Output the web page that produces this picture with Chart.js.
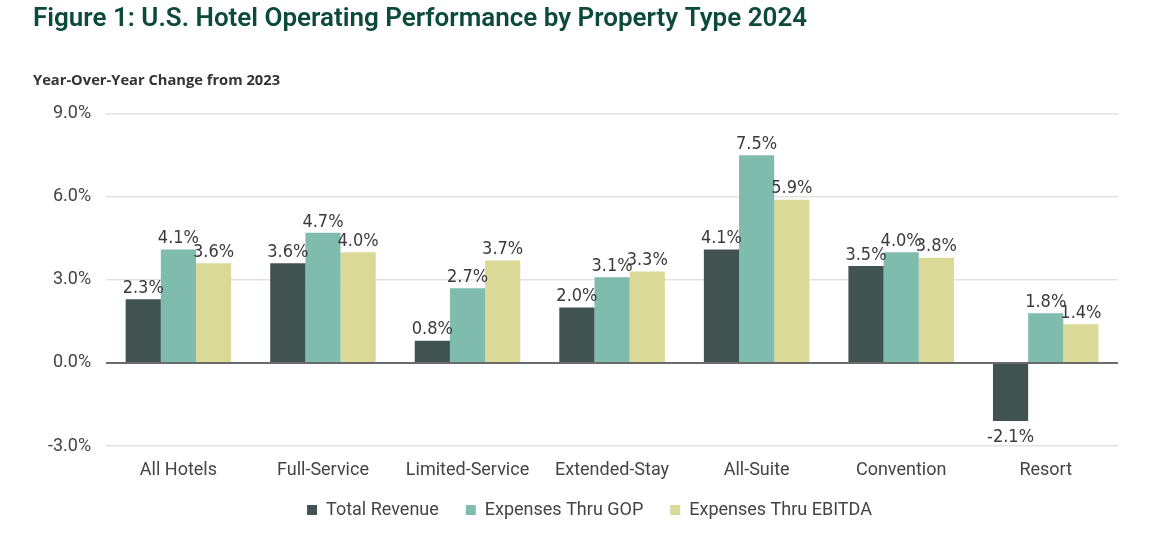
<!DOCTYPE html>
<html>
<head>
<meta charset="utf-8">
<script src="https://cdn.jsdelivr.net/npm/chart.js@4"></script>
<style>
  html, body { margin: 0; padding: 0; background: #fff; }
  #wrap { width: 1157px; height: 548px; }
</style>
</head>
<body>
<div id="wrap"><canvas id="myChart" width="1157" height="548"></canvas></div>
<script>
// chart data
const categories = ['All Hotels', 'Full-Service', 'Limited-Service', 'Extended-Stay', 'All-Suite', 'Convention', 'Resort'];
const totalRevenue = [2.3, 3.6, 0.8, 2.0, 4.1, 3.5, -2.1];
const expensesGOP = [4.1, 4.7, 2.7, 3.1, 7.5, 4.0, 1.8];
const expensesEBITDA = [3.6, 4.0, 3.7, 3.3, 5.9, 3.8, 1.4];
const seriesNames = ['Total Revenue', 'Expenses Thru GOP', 'Expenses Thru EBITDA'];
const yTicks = [-3, 0, 3, 6, 9];

const colors = ['#415351', '#7fbcae', '#dbd998'];

// draws the value over each bar (under it when negative)
const barLabels = {
    id: 'barLabels',
    afterDatasetsDraw(chart) {
        const c = chart.ctx;
        c.save();
        c.font = '18px "Liberation Sans Narrow", "DejaVu Sans Condensed", sans-serif';
        c.fillStyle = '#3a3a3a';
        c.textAlign = 'center';
        chart.data.datasets.forEach((ds, i) => {
            const meta = chart.getDatasetMeta(i);
            meta.data.forEach((bar, j) => {
                const v = ds.data[j];
                const txt = v.toFixed(1) + '%';
                if (v >= 0) {
                    c.textBaseline = 'bottom';
                    c.fillText(txt, bar.x, bar.y - 2);
                } else {
                    c.textBaseline = 'top';
                    c.fillText(txt, bar.x, bar.y + 7);
                }
            });
        });
        c.restore();
    }
};

// legend in the original sits a bit right of centre and close to the axis
const legendShift = {
    id: 'legendShift',
    afterLayout(chart) {
        const lg = chart.legend;
        lg.left += 14;
        lg.right += 14;
        lg.top -= 10;
        lg.bottom -= 10;
    }
};

const ctx = document.getElementById('myChart').getContext('2d');
const myChart = new Chart(ctx, {
    type: 'bar',
    data: {
        labels: categories,
        datasets: [
            { label: seriesNames[0], data: totalRevenue, backgroundColor: colors[0] },
            { label: seriesNames[1], data: expensesGOP, backgroundColor: colors[1] },
            { label: seriesNames[2], data: expensesEBITDA, backgroundColor: colors[2] }
        ]
    },
    options: {
        responsive: false,
        animation: false,
        layout: { padding: { left: 33, right: 39, top: 4, bottom: 9 } },
        datasets: { bar: { categoryPercentage: 0.73, barPercentage: 1.0 } },
        scales: {
            x: {
                grid: { display: false },
                border: { display: false },
                ticks: { color: '#444', font: { family: 'Roboto', size: 18 }, padding: 6 },
                afterFit: (scale) => { scale.height = 38; }
            },
            y: {
                min: -3,
                max: 9,
                afterBuildTicks: (axis) => { axis.ticks = yTicks.map(v => ({ value: v })); },
                border: { display: false },
                grid: {
                    drawTicks: false,
                    color: (c) => c.tick && c.tick.value === 0 ? '#6b6b6b' : '#e2e2e2',
                    lineWidth: (c) => c.tick && c.tick.value === 0 ? 2 : 1.5
                },
                ticks: {
                    color: '#444',
                    font: { family: 'Roboto', size: 18 },
                    padding: 15,
                    callback: (v) => Number(v).toFixed(1) + '%'
                }
            }
        },
        plugins: {
            title: {
                display: true,
                text: 'Figure 1: U.S. Hotel Operating Performance by Property Type 2024',
                align: 'start',
                color: '#0c4a3a',
                font: { family: 'Roboto', size: 26, weight: '600' },
                padding: { top: 0, bottom: 37 }
            },
            subtitle: {
                display: true,
                text: 'Year-Over-Year Change from 2023',
                align: 'start',
                color: '#333',
                font: { family: 'Open Sans', size: 14.7, weight: 'bold' },
                padding: { top: 0, bottom: 24 }
            },
            legend: {
                position: 'bottom',
                labels: {
                    boxWidth: 10,
                    boxHeight: 10,
                    color: '#444',
                    font: { family: 'Roboto', size: 18 },
                    padding: 27
                }
            },
            tooltip: { enabled: false }
        }
    },
    plugins: [barLabels, legendShift]
});
</script>
</body>
</html>
